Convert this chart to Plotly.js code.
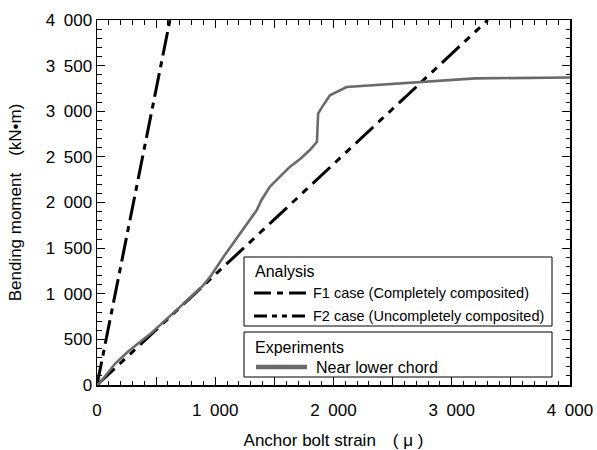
<!DOCTYPE html>
<html>
<head>
<meta charset="utf-8">
<script src="https://cdn.plot.ly/plotly-3.0.1.min.js"></script>
<style>html,body{margin:0;padding:0;background:#fff;}#chart{width:597px;height:450px;}</style>
</head>
<body>
<div id="chart"></div>
<script>
// Analysis lines
const f1Strain = [0, 617];
const f1Moment = [0, 4000];
const f2Strain = [0, 3305];
const f2Moment = [0, 4000];
// Experiment: near lower chord
const expStrain = [0, 25, 150, 265, 460, 660, 790, 900, 960, 1070, 1210, 1350, 1390, 1460, 1490, 1630, 1720, 1800, 1860, 1870, 1900, 1970, 2110, 2800, 3200, 4000];
const expMoment = [0, 25, 230, 370, 570, 800, 960, 1095, 1190, 1405, 1660, 1915, 2025, 2170, 2210, 2390, 2480, 2575, 2665, 2975, 3040, 3175, 3265, 3325, 3360, 3370];

// Tick labels
const xTickVals = [0, 500, 1000, 1500, 2000, 2500, 3000, 3500, 4000];
const xTickText = ["0", "", "1\u2002000", "", "2\u2002000", "", "3\u2002000", "", "4\u2002000"];
const yTickVals = [0, 500, 1000, 1500, 2000, 2500, 3000, 3500, 4000];
const yTickText = ["0", "500", "1\u2002000", "1\u2002500", "2\u2002000", "2\u2002500", "3\u2002000", "3\u2002500", "4\u2002000"];

const seriesNames = ["F1 case (Completely composited)", "F2 case (Uncompletely composited)", "Near lower chord"];
const groupTitles = ["Analysis", "Experiments"];

const F = "Liberation Sans, Arial, sans-serif";
const dashF1 = "24px,6px,6px,6px";
const dashF2 = "24px,7px,7px,7px,7px,7px";
const gray = "#6a6a6a";

const traces = [
  {x: f1Strain, y: f1Moment, name: seriesNames[0], mode: "lines", line: {color: "#000", width: 3, dash: dashF1}},
  {x: f2Strain, y: f2Moment, name: seriesNames[1], mode: "lines", line: {color: "#000", width: 3, dash: dashF2}},
  {x: expStrain, y: expMoment, name: seriesNames[2], mode: "lines", line: {color: gray, width: 2.6}}
];

// pixel -> paper helpers (plot area: x 97..570, y 20..385)
const L = 97, R = 570, T = 20, B = 385;
const px = v => (v - L) / (R - L);
const py = v => (B - v) / (B - T);

const shapes = [
  {type: "rect", xref: "paper", yref: "paper", x0: px(244), x1: px(552), y0: py(326), y1: py(257), line: {color: "#000", width: 1}, fillcolor: "#fff", layer: "above"},
  {type: "rect", xref: "paper", yref: "paper", x0: px(244), x1: px(552), y0: py(377), y1: py(332), line: {color: "#000", width: 1}, fillcolor: "#fff", layer: "above"},
  {type: "line", xref: "paper", yref: "paper", x0: px(254), x1: px(306), y0: py(293), y1: py(293), line: {color: "#000", width: 3, dash: "17px,6px,6px,6px"}, layer: "above"},
  {type: "line", xref: "paper", yref: "paper", x0: px(254), x1: px(306), y0: py(316), y1: py(316), line: {color: "#000", width: 3, dash: "13px,5px,5px,5px,5px,5px"}, layer: "above"},
  {type: "line", xref: "paper", yref: "paper", x0: px(256), x1: px(307), y0: py(367), y1: py(367), line: {color: gray, width: 4.5}, layer: "above"}
];

function ann(text, x, y, size) {
  return {text: text, xref: "paper", yref: "paper", x: px(x), y: py(y), xanchor: "left", yanchor: "middle", showarrow: false, borderpad: 0, font: {family: F, size: size, color: "#000"}};
}
const annotations = [
  ann(groupTitles[0], 254, 271, 16),
  ann(seriesNames[0], 312, 293, 14.5),
  ann(seriesNames[1], 312, 316, 14.5),
  ann(groupTitles[1], 254, 347, 16),
  ann(seriesNames[2], 315, 367, 16)
];

const axisCommon = {
  range: [0, 4000],
  showgrid: false,
  zeroline: false,
  showline: true,
  linecolor: "#000",
  linewidth: 1.5,
  mirror: "ticks",
  ticks: "inside",
  ticklen: 8,
  tickwidth: 1,
  tickcolor: "#000",
  tickmode: "array",
  tickfont: {family: F, size: 17, color: "#000"},
  minor: {tickmode: "linear", tick0: 0, dtick: 100, ticks: "inside", ticklen: 4.5, tickwidth: 1, tickcolor: "#000"}
};

const layout = {
  width: 597, height: 450,
  margin: {l: L, r: 597 - R, t: T, b: 450 - B},
  paper_bgcolor: "#fff", plot_bgcolor: "#fff",
  showlegend: false,
  font: {family: F, color: "#000"},
  xaxis: Object.assign({}, axisCommon, {
    tickvals: xTickVals, ticktext: xTickText,
    ticklabelstandoff: 9,
    title: {text: "Anchor bolt strain\u3000( \u03bc )", font: {family: F, size: 17, color: "#000"}, standoff: 17}
  }),
  yaxis: Object.assign({}, axisCommon, {
    tickvals: yTickVals, ticktext: yTickText,
    title: {text: "Bending moment\u3000(kN\u2022m)", font: {family: F, size: 17, color: "#000"}, standoff: 20}
  }),
  shapes: shapes,
  annotations: annotations
};

Plotly.newPlot("chart", traces, layout, {staticPlot: true, displayModeBar: false});
</script>
</body>
</html>
